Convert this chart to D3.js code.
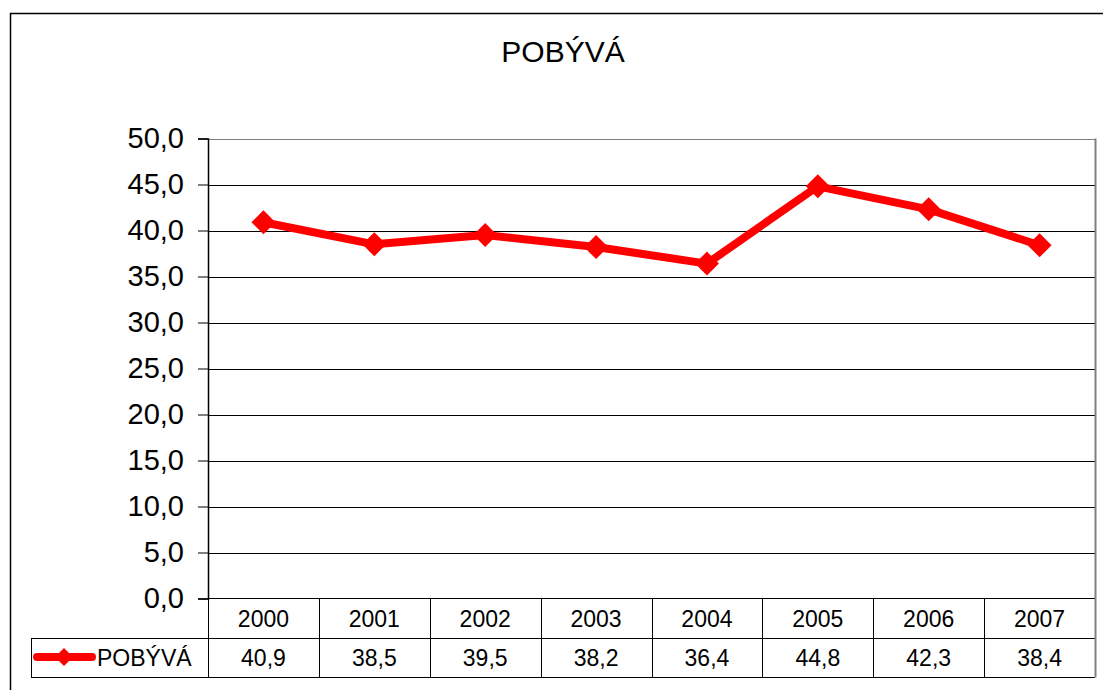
<!DOCTYPE html>
<html>
<head>
<meta charset="utf-8">
<style>
  body { margin: 0; background: #fff; font-family: Arial, 'Liberation Sans', sans-serif; }
  svg { display: block; }
</style>
</head>
<body>
<svg width="1103" height="690"></svg>
<script src="https://d3js.org/d3.v7.min.js"></script>
<script>
// chart data
var title = "POBÝVÁ";
var seriesName = "POBÝVÁ";
var years = ["2000", "2001", "2002", "2003", "2004", "2005", "2006", "2007"];
var values = [40.9, 38.5, 39.5, 38.2, 36.4, 44.8, 42.3, 38.4];
var yTicks = [0, 5, 10, 15, 20, 25, 30, 35, 40, 45, 50];

var svg = d3.select("svg");
var fmt = function(v) { return d3.format(".1f")(v).replace(".", ","); };

// outer chart border
svg.append("rect")
    .attr("x", 10.5).attr("y", 13.5)
    .attr("width", 1110).attr("height", 700)
    .attr("fill", "none").attr("stroke", "#000").attr("stroke-width", 1.5);

svg.append("text")
    .attr("x", 563).attr("y", 62)
    .attr("text-anchor", "middle")
    .attr("font-size", 30)
    .text(title);

var plotL = 208, plotR = 1095, plotT = 138.5, plotB = 598.5;

var x = d3.scaleBand().domain(years).range([plotL, plotR]);
var y = d3.scaleLinear().domain([0, 50]).range([plotB, plotT]);

// gridlines
svg.append("g")
    .selectAll("line")
    .data(yTicks.slice(1))
    .enter().append("line")
      .attr("x1", plotL).attr("x2", plotR)
      .attr("y1", function(d) { return Math.round(y(d)) + 0.5; })
      .attr("y2", function(d) { return Math.round(y(d)) + 0.5; })
      .attr("stroke", function(d) { return d == 50 ? "#808080" : "#000"; })
      .attr("stroke-width", 1);

// plot area right border
svg.append("line")
    .attr("x1", plotR + 0.5).attr("x2", plotR + 0.5)
    .attr("y1", plotT).attr("y2", plotB)
    .attr("stroke", "#808080").attr("stroke-width", 2);

// y axis
var yAxis = svg.append("g")
    .attr("transform", "translate(" + plotL + ",0)")
    .call(d3.axisLeft(y).tickValues(yTicks).tickSize(10).tickPadding(14).tickFormat(fmt));
yAxis.select(".domain").attr("stroke", "#000").attr("stroke-width", 1.5);
yAxis.selectAll(".tick line").attr("stroke", "#000");
yAxis.selectAll("text")
    .attr("font-family", "Arial, 'Liberation Sans', sans-serif")
    .attr("font-size", 29).attr("fill", "#000");

// data table
var tRow1 = 598.5, tRow2 = 638.5, tRow3 = 677.5;
var table = svg.append("g").attr("stroke", "#000").attr("stroke-width", 1);
table.append("line").attr("x1", plotL).attr("x2", plotR).attr("y1", tRow1).attr("y2", tRow1);
table.append("line").attr("x1", 31).attr("x2", plotR).attr("y1", tRow2).attr("y2", tRow2);
table.append("line").attr("x1", 31).attr("x2", plotR).attr("y1", tRow3).attr("y2", tRow3);
table.append("line").attr("x1", 31.5).attr("x2", 31.5).attr("y1", tRow2).attr("y2", tRow3);
table.selectAll(".vl")
    .data(years)
    .enter().append("line")
      .attr("x1", function(d) { return Math.round(x(d)) + 0.5; })
      .attr("x2", function(d) { return Math.round(x(d)) + 0.5; })
      .attr("y1", tRow1).attr("y2", tRow3);
table.append("line")
    .attr("x1", plotR + 0.5).attr("x2", plotR + 0.5)
    .attr("y1", tRow1).attr("y2", tRow3)
    .attr("stroke", "#808080").attr("stroke-width", 2);

svg.append("g").selectAll("text")
    .data(years)
    .enter().append("text")
      .attr("x", function(d) { return x(d) + x.bandwidth() / 2; })
      .attr("y", 627)
      .attr("text-anchor", "middle").attr("font-size", 23)
      .text(function(d) { return d; });

svg.append("g").selectAll("text")
    .data(values)
    .enter().append("text")
      .attr("x", function(d, i) { return x(years[i]) + x.bandwidth() / 2; })
      .attr("y", 666)
      .attr("text-anchor", "middle").attr("font-size", 23)
      .text(fmt);

// legend key in table
svg.append("line")
    .attr("x1", 37).attr("x2", 92).attr("y1", 657).attr("y2", 657)
    .attr("stroke", "#ff0000").attr("stroke-width", 8).attr("stroke-linecap", "round");
svg.append("path")
    .attr("transform", "translate(64,657)")
    .attr("d", "M0,-9L9,0L0,9L-9,0Z")
    .attr("fill", "#ff0000");
svg.append("text")
    .attr("x", 97).attr("y", 666)
    .attr("font-size", 23)
    .text(seriesName);

// series line
var cx = function(d, i) { return x(years[i]) + x.bandwidth() / 2; };
var line = d3.line().x(cx).y(function(d) { return y(d); });
svg.append("path")
    .datum(values)
    .attr("d", line)
    .attr("fill", "none")
    .attr("stroke", "#ff0000")
    .attr("stroke-width", 8)
    .attr("stroke-linejoin", "round");

svg.append("g").selectAll("path")
    .data(values)
    .enter().append("path")
      .attr("transform", function(d, i) { return "translate(" + cx(d, i) + "," + y(d) + ")"; })
      .attr("d", "M0,-12L12,0L0,12L-12,0Z")
      .attr("fill", "#ff0000");
</script>
</body>
</html>
